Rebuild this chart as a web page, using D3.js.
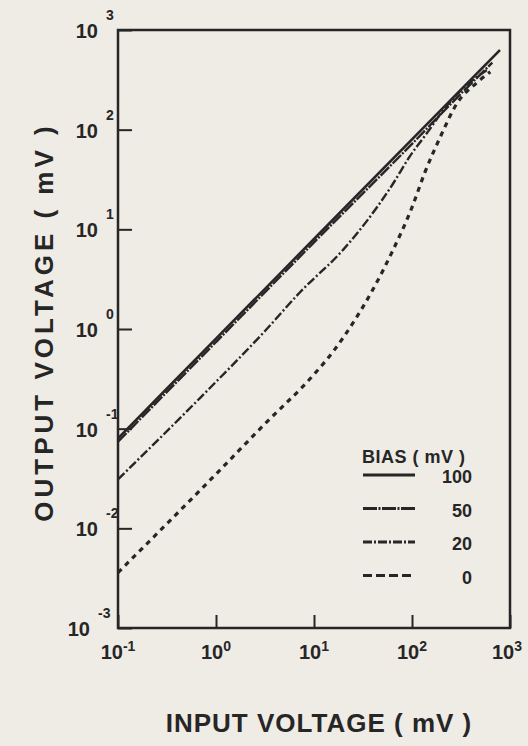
<!DOCTYPE html>
<html>
<head>
<meta charset="utf-8">
<script src="https://cdn.jsdelivr.net/npm/d3@7"></script>
<style>
  html, body { margin: 0; padding: 0; background: #efebe5; }
  svg { display: block; font-family: "Liberation Sans", Arial, sans-serif; font-weight: bold; }
</style>
</head>
<body>
<div id="chart"></div>
<script>
// tick values and their exponent labels
const xTicks = [0.1, 1, 10, 100, 1000];
const xExp = ['-1', '0', '1', '2', '3'];
const yTicks = [0.001, 0.01, 0.1, 1, 10, 100, 1000];
const yExp = ['-3', '-2', '-1', '0', '1', '2', '3'];

// curves (input mV -> output mV)
const bias100X = [0.1, 1, 10, 100, 790];
const bias100Y = [0.08, 0.8, 8, 80, 630];
const bias50X = [0.1, 1, 10, 100, 316, 660];
const bias50Y = [0.074, 0.74, 7.4, 72, 230, 470];
const bias20X = [0.1, 0.69, 3.16, 7.2, 20, 35, 63, 95, 145, 210, 363, 590];
const bias20Y = [0.031, 0.204, 0.955, 2.34, 6.3, 12.3, 28, 54, 95, 158, 282, 400];
const bias0X = [0.1, 1, 3.16, 10, 15.8, 25, 40, 63, 100, 135, 195, 290, 457, 630];
const bias0Y = [0.0036, 0.035, 0.112, 0.35, 0.6, 1.15, 2.5, 6.0, 16.6, 37, 85, 186, 295, 380];

const legendLabels = ['100', '50', '20', '0'];

const ink = '#262626';
const dims = { width: 528, height: 746, left: 118, top: 30, right: 510, bottom: 628 };

const svg = d3.select('#chart')
    .append('svg')
    .attr('width', dims.width)
    .attr('height', dims.height);

const x = d3.scaleLog().domain([0.1, 1000]).range([dims.left, dims.right]);
const y = d3.scaleLog().domain([0.001, 1000]).range([dims.bottom, dims.top]);

// inward ticks
svg.append('g')
    .attr('transform', `translate(${dims.left},0)`)
    .call(d3.axisLeft(y).tickValues(yTicks).tickSize(-14).tickFormat(''))
    .call(g => g.select('.domain').remove())
    .call(g => g.selectAll('line').attr('stroke', ink).attr('stroke-width', 2));

svg.append('g')
    .attr('transform', `translate(0,${dims.bottom})`)
    .call(d3.axisBottom(x).tickValues(xTicks).tickSize(-13).tickFormat(''))
    .call(g => g.select('.domain').remove())
    .call(g => g.selectAll('line').attr('stroke', ink).attr('stroke-width', 2));

// frame
svg.append('rect')
    .attr('x', dims.left).attr('y', dims.top)
    .attr('width', dims.right - dims.left).attr('height', dims.bottom - dims.top)
    .attr('fill', 'none').attr('stroke', ink).attr('stroke-width', 2.5);

// y tick labels (the bottom one sits a bit further left, clear of 10^-1)
const yl = svg.append('g').attr('fill', ink);
yTicks.forEach((v, i) => {
    const shift = i === 0 ? -8 : 0;
    yl.append('text')
        .attr('x', 98 + shift).attr('y', y(v) + 8)
        .attr('text-anchor', 'end')
        .attr('font-size', 20)
        .text('10');
    yl.append('text')
        .attr('x', 106 + shift).attr('y', y(v) - 10)
        .attr('font-size', 14)
        .text(yExp[i]);
});

// x tick labels
xTicks.forEach((v, i) => {
    const t = svg.append('text')
        .attr('x', x(v) - (i === xTicks.length - 1 ? 3 : 0)).attr('y', 659)
        .attr('text-anchor', 'middle')
        .attr('fill', ink);
    t.append('tspan').attr('font-size', 20).text('10');
    t.append('tspan').attr('font-size', 14).attr('dy', -8).text(xExp[i]);
});

// axis titles
svg.append('text')
    .attr('x', 319).attr('y', 732)
    .attr('text-anchor', 'middle')
    .attr('font-size', 26)
    .attr('letter-spacing', 1)
    .attr('fill', ink)
    .text('INPUT VOLTAGE ( mV )');

svg.append('text')
    .attr('transform', 'translate(53,322) rotate(-90)')
    .attr('text-anchor', 'middle')
    .attr('font-size', 26)
    .attr('letter-spacing', 4)
    .attr('fill', ink)
    .text('OUTPUT VOLTAGE ( mV )');

// curves
const line = d3.line()
    .x(d => x(d[0]))
    .y(d => y(d[1]))
    .curve(d3.curveMonotoneX);

const series = [
    { xs: bias100X, ys: bias100Y, dash: null, w: 2.6 },
    { xs: bias50X, ys: bias50Y, dash: '12,1.5,2,1.5', w: 2.4 },
    { xs: bias20X, ys: bias20Y, dash: '9,2.5,2,2.5', w: 2.4 },
    { xs: bias0X, ys: bias0Y, dash: '5,5', w: 3.2 }
];

svg.append('g')
    .selectAll('path')
    .data(series)
    .join('path')
    .attr('d', s => line(d3.zip(s.xs, s.ys)))
    .attr('fill', 'none')
    .attr('stroke', ink)
    .attr('stroke-width', s => s.w)
    .attr('stroke-dasharray', s => s.dash);

// legend
const legend = svg.append('g').attr('fill', ink);
legend.append('text')
    .attr('x', 362).attr('y', 463)
    .attr('font-size', 18)
    .attr('letter-spacing', 0.5)
    .text('BIAS ( mV )');

const legendDash = [null, '14,1.5,2,1.5', '9,2,2,2', '9,4'];
legendLabels.forEach((lab, i) => {
    const ly = 475 + i * 33.5;
    legend.append('line')
        .attr('x1', 363).attr('x2', 415)
        .attr('y1', ly).attr('y2', ly)
        .attr('stroke', ink)
        .attr('stroke-width', 3)
        .attr('stroke-dasharray', legendDash[i]);
    legend.append('text')
        .attr('x', 472).attr('y', ly + 8)
        .attr('text-anchor', 'end')
        .attr('font-size', 18)
        .text(lab);
});
</script>
</body>
</html>
